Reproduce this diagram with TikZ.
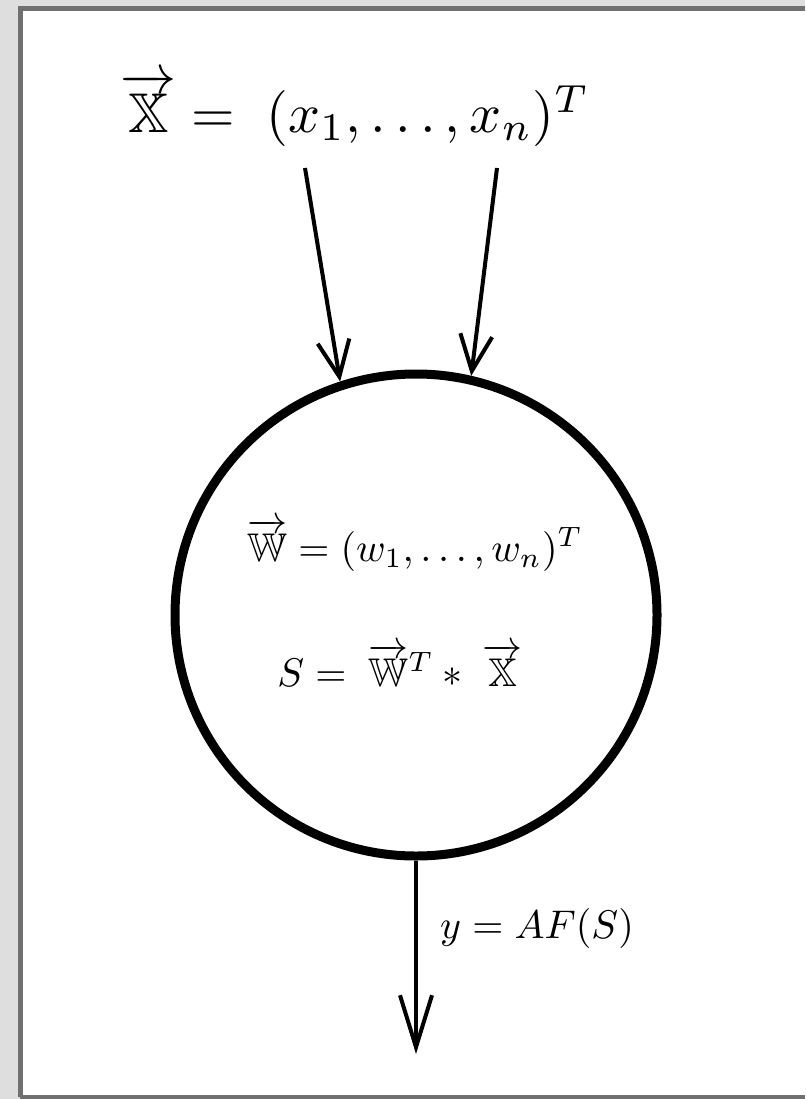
\documentclass[tikz,border=0pt]{standalone}
\usepackage{graphicx}
\usepackage{amsmath,amssymb}
\usetikzlibrary{arrows.meta}
\definecolor{bggray}{HTML}{DEDEDE}
\definecolor{framegray}{HTML}{707070}
\newcommand{\scaledtop}[1]{\scalebox{5.6}{$#1$}}
\newcommand{\scaledmid}[1]{\scalebox{4}{$#1$}}
\tikzset{
  conn/.style={line width=4pt,-{Straight Barb[length=36pt,width=32pt]}},
  longconn/.style={line width=4pt,-{Straight Barb[length=52pt,width=32pt]}},
  txt/.style={inner sep=0pt},
}
\begin{document}
\begin{tikzpicture}[x=1pt,y=-1pt]
\useasboundingbox (0,0) rectangle (805,1099);
\fill[bggray] (0,0) rectangle (805,1099);
\fill[white] (20,9) rectangle (805,1097);
\draw[framegray,line width=5pt] (20,1097) -- (20,9) -- (805,9);
\draw[framegray,line width=5pt] (20,1097) -- (805,1097);

\node[txt] (xin) at (355,110) {\scaledtop{\overrightarrow{\mathbb{X}} =\; (x_1,\ldots,x_n)^T}};
\node[draw,circle,line width=9pt,minimum size=482pt,inner sep=0pt] (neuron) at (416,615) {};
\node[txt] (wdef) at (415,545) {\scaledmid{\overrightarrow{\mathbb{W}} = (w_1,\ldots,w_n)^T}};
\node[txt] (sdef) at (400,665) {\scaledmid{S = \;\overrightarrow{\mathbb{W}}^T \ast\; \overrightarrow{\mathbb{X}}}};

\coordinate (x1) at (305,168);
\coordinate (xn) at (497,168);
\coordinate (out) at (416,1054);
\draw[conn] (x1) -- (neuron.108);
\draw[conn] (xn) -- (neuron.77);
\draw[longconn] (neuron.south) -- (out);
\node[txt,anchor=west] (yout) at (440,928) {\scaledmid{y = AF(S)}};
\end{tikzpicture}
\end{document}
